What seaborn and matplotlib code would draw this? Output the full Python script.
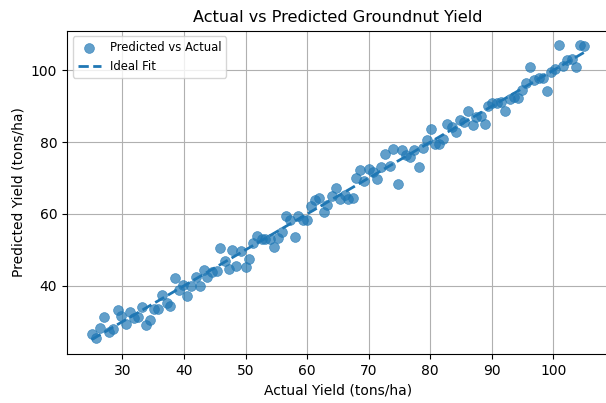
import numpy as np
import pandas as pd
import matplotlib
matplotlib.use("Agg")
import matplotlib.pyplot as plt
import seaborn as sns

actual = [25.0, 25.7, 26.4, 27.0, 27.8, 28.5, 29.2, 29.7, 30.5, 31.2,
          31.9, 32.5, 33.1, 33.9, 34.5, 35.1, 35.8, 36.5, 37.2, 37.8,
          38.5, 39.2, 39.9, 40.5, 41.2, 41.9, 42.6, 43.2, 43.8, 44.6,
          45.3, 45.9, 46.6, 47.3, 47.8, 48.5, 49.2, 50.0, 50.6, 51.2,
          51.9, 52.6, 53.2, 53.9, 54.6, 55.3, 55.9, 56.6, 57.3, 58.0,
          58.6, 59.3, 60.0, 60.6, 61.3, 62.0, 62.7, 63.3, 64.0, 64.7,
          65.4, 66.1, 66.7, 67.4, 68.0, 68.6, 69.3, 70.0, 70.7, 71.3,
          72.0, 72.7, 73.4, 74.0, 74.7, 75.4, 76.1, 76.7, 77.4, 78.1,
          78.8, 79.4, 80.1, 80.8, 81.5, 82.1, 82.8, 83.5, 84.2, 84.8,
          85.5, 86.2, 86.9, 87.5, 88.2, 88.9, 89.4, 90.1, 90.8, 91.5,
          92.2, 92.9, 93.6, 94.3, 94.9, 95.5, 96.2, 96.9, 97.6, 98.3,
          98.9, 99.6, 100.3, 100.9, 101.6, 102.3, 103.0, 103.7, 104.3, 105.0]

predicted = [26.6, 25.4, 28.2, 31.2, 27.2, 28.0, 33.2, 31.5, 29.4, 32.6,
             31.0, 31.2, 34.0, 29.1, 30.4, 33.5, 33.5, 37.5, 35.1, 34.4,
             42.3, 38.8, 40.2, 37.1, 39.9, 42.4, 39.8, 44.3, 42.4, 43.8,
             44.0, 50.6, 47.0, 44.6, 49.9, 45.6, 49.8, 45.2, 47.4, 51.9,
             54.0, 53.1, 53.1, 53.1, 50.9, 53.4, 55.0, 59.3, 58.3, 53.6,
             59.5, 58.4, 58.4, 62.3, 64.0, 64.5, 60.5, 62.6, 65.0, 67.2,
             64.2, 65.4, 64.1, 64.4, 70.0, 72.2, 69.1, 72.5, 71.8, 69.8,
             73.1, 76.7, 73.3, 78.1, 68.3, 77.7, 76.5, 75.9, 77.7, 73.2,
             78.3, 80.5, 83.7, 79.6, 79.6, 80.9, 85.0, 84.3, 82.9, 86.1,
             85.7, 88.6, 84.9, 87.0, 87.4, 85.0, 90.1, 90.9, 90.9, 91.1,
             88.6, 91.9, 92.6, 92.2, 94.5, 96.5, 100.9, 97.4, 98.0, 98.0,
             94.2, 99.6, 100.4, 107.1, 101.3, 103.0, 103.1, 100.8, 107.1, 106.9]

title = "Actual vs Predicted Groundnut Yield"
xlabel = "Actual Yield (tons/ha)"
ylabel = "Predicted Yield (tons/ha)"

df = pd.DataFrame({"actual": actual, "predicted": predicted})
lo, hi = min(actual), max(actual)
fit = pd.DataFrame({"x": [lo, hi], "y": [lo, hi]})

plt.rcParams["font.family"] = ["DejaVu Sans"]
fig = plt.figure(figsize=(6.06, 4.03), dpi=100)
ax = fig.add_axes([0.1106, 0.1216, 0.8939, 0.8027])

sns.scatterplot(data=df, x="actual", y="predicted", ax=ax, color="#1f77b4",
                alpha=0.7, s=50, edgecolor="#1f77b4", linewidth=0.5,
                label="Predicted vs Actual")
sns.lineplot(data=fit, x="x", y="y", ax=ax, color="#1f77b4", linestyle="--",
             linewidth=2, label="Ideal Fit")

ax.set_xlim(21.0, 109.0)
ax.set_ylim(21.0, 111.1)
ax.set_title(title, fontsize=11.6)
ax.set_xlabel(xlabel, fontsize=10)
ax.set_ylabel(ylabel, fontsize=10)
ax.tick_params(labelsize=10)
ax.grid(True, color="#b0b0b0", linewidth=0.8)
ax.set_axisbelow(True)
ax.legend(loc="upper left", fontsize=8.4)

fig.savefig("out.png", dpi=100)
